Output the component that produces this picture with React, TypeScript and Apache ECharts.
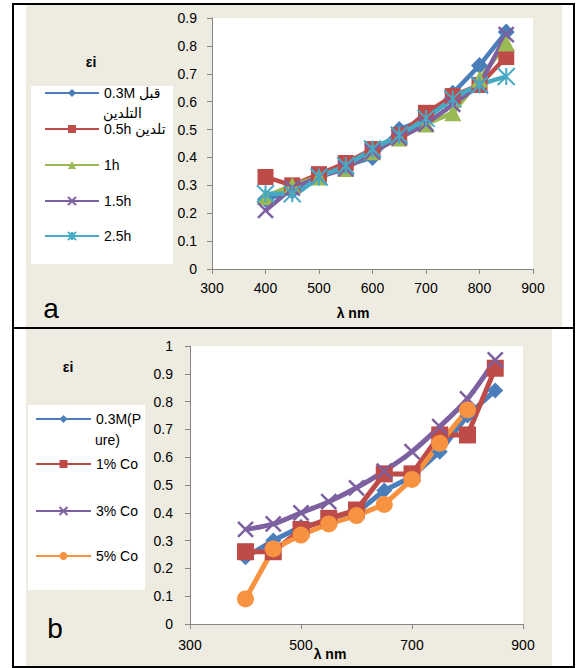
import React, { useEffect, useRef } from "react";
import * as echarts from "echarts";

// ---------- data ----------
const wavelengths = [400, 450, 500, 550, 600, 650, 700, 750, 800, 850];

// panel a
const namesA = ["0.3M قبل التلدين", "0.5h تلدين", "1h", "1.5h", "2.5h"];
const legendLabelsA = ["0.3M قبل", "0.5h تلدين", "1h", "1.5h", "2.5h"];
const legendWrapA = "التلدين";
const beforeAnneal = [0.25, 0.28, 0.33, 0.37, 0.4, 0.5, 0.54, 0.63, 0.73, 0.85];
const anneal05h = [0.33, 0.3, 0.34, 0.38, 0.43, 0.48, 0.56, 0.62, 0.66, 0.76];
const anneal1h = [0.26, 0.3, 0.33, 0.36, 0.42, 0.47, 0.52, 0.56, 0.68, 0.81];
const anneal15h = [0.21, 0.29, 0.33, 0.36, 0.42, 0.47, 0.52, 0.59, 0.66, 0.84];
const anneal25h = [0.27, 0.27, 0.33, 0.37, 0.43, 0.48, 0.54, 0.61, 0.66, 0.69];

// panel b
const namesB = ["0.3M(Pure)", "1% Co", "3% Co", "5% Co"];
const legendLabelsB = ["0.3M(P", "1% Co", "3% Co", "5% Co"];
const legendWrapB = "ure)";
const pure = [0.24, 0.3, 0.35, 0.37, 0.4, 0.48, 0.53, 0.62, 0.75, 0.84];
const co1 = [0.26, 0.26, 0.34, 0.38, 0.41, 0.54, 0.54, 0.68, 0.68, 0.92];
const co3 = [0.34, 0.36, 0.4, 0.44, 0.49, 0.55, 0.62, 0.71, 0.81, 0.95];
const co5 = [0.09, 0.27, 0.32, 0.36, 0.39, 0.43, 0.52, 0.65, 0.77];

const yTitle = "εi";
const xTitle = "λ nm";
const panelLetters = ["a", "b"];

// ---------- styles ----------
const FONT = "'Liberation Sans', 'DejaVu Sans', Arial, sans-serif";
const BEIGE = "#EEECE1";
const AXIS = "#868686";
const COLORS = {
  blue: "#4A7EBB",
  red: "#BE4B48",
  green: "#98B954",
  purple: "#7D60A0",
  cyan: "#46AAC5",
  orange: "#F69240",
};
const X_SYM = "path://M0,0L10,10M10,0L0,10";
const STAR_SYM = "path://M0,0L10,10M10,0L0,10M5,0L5,10";

function pairs(vals: number[]) {
  return vals.map((v, i) => [wavelengths[i], v]);
}

function lineSeries(
  name: string,
  vals: number[],
  color: string,
  symbol: string,
  symbolSize: number,
  axisIndex: number,
  opts: any = {}
) {
  const isPath = symbol.startsWith("path://");
  return {
    type: "line",
    name,
    xAxisIndex: axisIndex,
    yAxisIndex: axisIndex,
    data: pairs(vals),
    symbol,
    symbolSize,
    showAllSymbol: true,
    smooth: opts.smooth || false,
    lineStyle: { color, width: opts.width || 4.5 },
    itemStyle: isPath
      ? { color, borderColor: color, borderWidth: opts.bw || 2.2 }
      : { color, borderWidth: 0 },
    emphasis: { disabled: true },
    z: 2,
  };
}

function legendItem(name: string, label: string, left: number, centerY: number, itemWidth: number) {
  return {
    data: [name],
    left,
    top: centerY - 8,
    orient: "vertical",
    padding: 0,
    itemWidth,
    itemHeight: 10,
    selectedMode: false,
    formatter: () => label,
    textStyle: { fontFamily: FONT, fontSize: 14, color: "#000" },
  };
}

function axisCommon() {
  return {
    axisLine: { show: true, lineStyle: { color: AXIS, width: 1 } },
    axisTick: { show: true, inside: false, length: 5, lineStyle: { color: AXIS } },
    splitLine: { show: false },
  };
}

export default function App() {
  const ref = useRef<HTMLDivElement>(null);

  useEffect(() => {
    document.body.style.margin = "0";
    if (!ref.current) return;
    const chart = echarts.init(ref.current, undefined, { renderer: "svg" });

    const series = [
      lineSeries(namesA[0], beforeAnneal, COLORS.blue, "diamond", 17, 0),
      lineSeries(namesA[1], anneal05h, COLORS.red, "rect", 16, 0),
      lineSeries(namesA[2], anneal1h, COLORS.green, "triangle", 17, 0),
      lineSeries(namesA[3], anneal15h, COLORS.purple, X_SYM, 15, 0, { bw: 2.5 }),
      lineSeries(namesA[4], anneal25h, COLORS.cyan, STAR_SYM, 17, 0, { smooth: 0.3, bw: 2 }),
      lineSeries(namesB[0], pure, COLORS.blue, "diamond", 16, 1, { width: 5 }),
      lineSeries(namesB[1], co1, COLORS.red, "rect", 17, 1, { width: 5 }),
      lineSeries(namesB[2], co3, COLORS.purple, X_SYM, 15, 1, { width: 5, smooth: 0.3, bw: 2.5 }),
      lineSeries(namesB[3], co5, COLORS.orange, "circle", 17, 1, { width: 5 }),
    ];

    const legendCentersA = [94, 130, 166, 202, 237];
    const legendCentersB = [420, 465, 512, 557];

    const legends = [
      ...namesA.map((n, i) => legendItem(n, legendLabelsA[i], 44, legendCentersA[i], 54)),
      ...namesB.map((n, i) => legendItem(n, legendLabelsB[i], 35, legendCentersB[i], 55)),
    ];

    const textStyleBase = { fontFamily: FONT, fill: "#000" };

    const option: any = {
      animation: false,
      backgroundColor: "#fff",
      grid: [
        { left: 212, top: 18, width: 321, height: 251, show: true, backgroundColor: "#fff", borderWidth: 0 },
        { left: 190, top: 346, width: 333, height: 278, show: true, backgroundColor: "#fff", borderWidth: 0 },
      ],
      xAxis: [
        {
          gridIndex: 0,
          type: "value",
          min: 300,
          max: 900,
          interval: 100,
          ...axisCommon(),
          axisLabel: { fontFamily: FONT, fontSize: 14, color: "#000", margin: 12 },
        },
        {
          gridIndex: 1,
          type: "value",
          min: 300,
          max: 900,
          interval: 200,
          ...axisCommon(),
          axisLabel: { fontFamily: FONT, fontSize: 14, color: "#000", margin: 14 },
        },
      ],
      yAxis: [
        {
          gridIndex: 0,
          type: "value",
          min: 0,
          max: 0.9,
          interval: 0.1,
          ...axisCommon(),
          axisLabel: { fontFamily: FONT, fontSize: 14, color: "#000", margin: 15 },
        },
        {
          gridIndex: 1,
          type: "value",
          min: 0,
          max: 1,
          interval: 0.1,
          ...axisCommon(),
          axisLabel: { fontFamily: FONT, fontSize: 14, color: "#000", margin: 17 },
        },
      ],
      legend: legends,
      tooltip: { show: false },
      graphic: [
        // beige panels
        { type: "rect", z: -20, silent: true, shape: { x: 26, y: 5, width: 536, height: 322 }, style: { fill: BEIGE } },
        { type: "rect", z: -20, silent: true, shape: { x: 26, y: 329, width: 526, height: 337 }, style: { fill: BEIGE } },
        // legend boxes
        { type: "rect", z: -15, silent: true, shape: { x: 31, y: 86, width: 142, height: 178 }, style: { fill: "#fff" } },
        { type: "rect", z: -15, silent: true, shape: { x: 28, y: 405, width: 117, height: 185 }, style: { fill: "#fff" } },
        // frames
        { type: "rect", z: 10, silent: true, shape: { x: 13, y: 4, width: 561, height: 663 }, style: { fill: "none", stroke: "#000", lineWidth: 2 } },
        { type: "line", z: 10, silent: true, shape: { x1: 13, y1: 328, x2: 574, y2: 328 }, style: { stroke: "#000", lineWidth: 2 } },
        // texts
        { type: "text", z: 10, x: 91, y: 62, style: { ...textStyleBase, text: yTitle, fontSize: 14, fontWeight: "bold", align: "center", verticalAlign: "middle" } },
        { type: "text", z: 10, x: 68, y: 367, style: { ...textStyleBase, text: yTitle, fontSize: 14, fontWeight: "bold", align: "center", verticalAlign: "middle" } },
        { type: "text", z: 10, x: 353, y: 313, style: { ...textStyleBase, text: xTitle, fontSize: 14, fontWeight: "bold", align: "center", verticalAlign: "middle" } },
        { type: "text", z: 10, x: 330, y: 654, style: { ...textStyleBase, text: xTitle, fontSize: 14, fontWeight: "bold", align: "center", verticalAlign: "middle" } },
        { type: "text", z: 10, x: 51, y: 308, style: { ...textStyleBase, text: panelLetters[0], fontSize: 28, align: "center", verticalAlign: "middle" } },
        { type: "text", z: 10, x: 55, y: 628, style: { ...textStyleBase, text: panelLetters[1], fontSize: 28, align: "center", verticalAlign: "middle" } },
        { type: "text", z: 10, x: 103, y: 113, style: { ...textStyleBase, text: legendWrapA, fontSize: 14, align: "left", verticalAlign: "middle" } },
        { type: "text", z: 10, x: 95, y: 440, style: { ...textStyleBase, text: legendWrapB, fontSize: 14, align: "left", verticalAlign: "middle" } },
      ],
      series,
    };

    chart.setOption(option);
    return () => chart.dispose();
  }, []);

  return <div ref={ref} style={{ width: 576, height: 668 }} />;
}
